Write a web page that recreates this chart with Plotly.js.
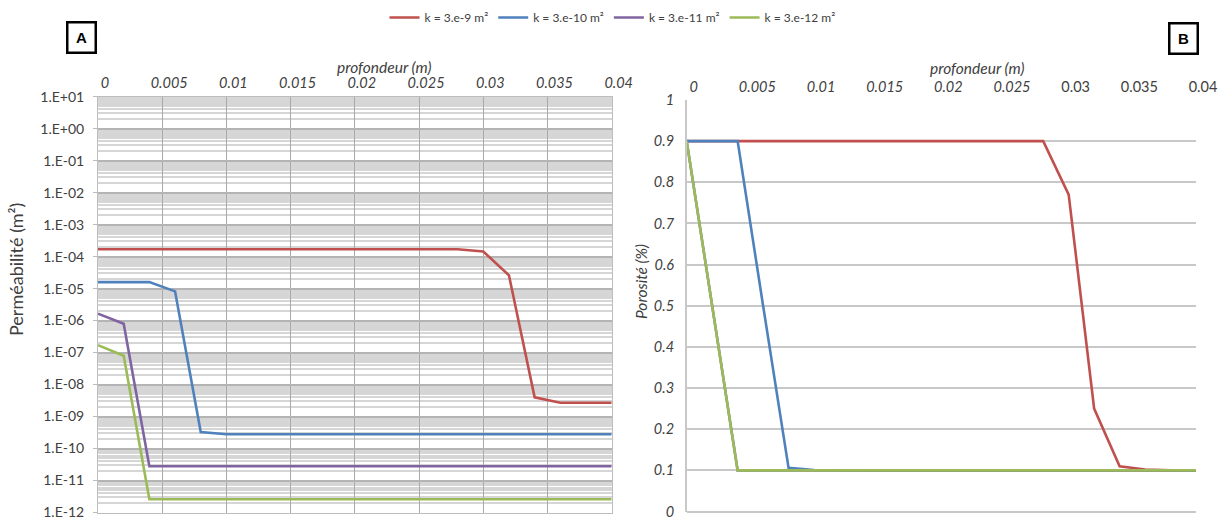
<!DOCTYPE html>
<html><head><meta charset="utf-8">
<script src="https://cdn.plot.ly/plotly-3.0.1.min.js"></script>
<style>html,body{margin:0;padding:0;background:#fff}#chart{width:1225px;height:520px}</style>
</head><body><div id="chart"></div>
<script>
// ---- data ----
const depth = [0, 0.002, 0.004, 0.006, 0.008, 0.010, 0.012, 0.014, 0.016, 0.018, 0.020,
               0.022, 0.024, 0.026, 0.028, 0.030, 0.032, 0.034, 0.036, 0.038, 0.040];
const seriesNames = ['k = 3.e-9 m²', 'k = 3.e-10 m²', 'k = 3.e-11 m²', 'k = 3.e-12 m²'];
const seriesColors = ['#C0504D', '#4F81BD', '#8064A2', '#9BBB59'];

const permK9  = [1.7e-4, 1.7e-4, 1.7e-4, 1.7e-4, 1.7e-4, 1.7e-4, 1.7e-4, 1.7e-4, 1.7e-4, 1.7e-4, 1.7e-4,
                 1.7e-4, 1.7e-4, 1.7e-4, 1.7e-4, 1.45e-4, 2.6e-5, 4.0e-9, 2.7e-9, 2.7e-9, 2.7e-9];
const permK10 = [1.6e-5, 1.6e-5, 1.6e-5, 8.2e-6, 3.3e-10, 2.8e-10, 2.8e-10, 2.8e-10, 2.8e-10, 2.8e-10, 2.8e-10,
                 2.8e-10, 2.8e-10, 2.8e-10, 2.8e-10, 2.8e-10, 2.8e-10, 2.8e-10, 2.8e-10, 2.8e-10, 2.8e-10];
const permK11 = [1.65e-6, 8.0e-7, 2.8e-11, 2.8e-11, 2.8e-11, 2.8e-11, 2.8e-11, 2.8e-11, 2.8e-11, 2.8e-11, 2.8e-11,
                 2.8e-11, 2.8e-11, 2.8e-11, 2.8e-11, 2.8e-11, 2.8e-11, 2.8e-11, 2.8e-11, 2.8e-11, 2.8e-11];
const permK12 = [1.7e-7, 8.0e-8, 2.6e-12, 2.6e-12, 2.6e-12, 2.6e-12, 2.6e-12, 2.6e-12, 2.6e-12, 2.6e-12, 2.6e-12,
                 2.6e-12, 2.6e-12, 2.6e-12, 2.6e-12, 2.6e-12, 2.6e-12, 2.6e-12, 2.6e-12, 2.6e-12, 2.6e-12];

const poroK9  = [0.9, 0.9, 0.9, 0.9, 0.9, 0.9, 0.9, 0.9, 0.9, 0.9, 0.9,
                 0.9, 0.9, 0.9, 0.9, 0.77, 0.25, 0.11, 0.102, 0.1, 0.1];
const poroK10 = [0.9, 0.9, 0.9, 0.5, 0.106, 0.101, 0.1, 0.1, 0.1, 0.1, 0.1,
                 0.1, 0.1, 0.1, 0.1, 0.1, 0.1, 0.1, 0.1, 0.1, 0.1];
const poroK11 = [0.9, 0.5, 0.1, 0.1, 0.1, 0.1, 0.1, 0.1, 0.1, 0.1, 0.1,
                 0.1, 0.1, 0.1, 0.1, 0.1, 0.1, 0.1, 0.1, 0.1, 0.1];
const poroK12 = [0.9, 0.5, 0.1, 0.1, 0.1, 0.1, 0.1, 0.1, 0.1, 0.1, 0.1,
                 0.1, 0.1, 0.1, 0.1, 0.1, 0.1, 0.1, 0.1, 0.1, 0.1];

const xTickVals = [0, 0.005, 0.01, 0.015, 0.02, 0.025, 0.03, 0.035, 0.04];
const xTickTextA = ['0', '0.005', '0.01', '0.015', '0.02', '0.025', '0.03', '0.035', '0.04'];
const xTickTextB = ['<i>0</i>', '<i>0.005</i>', '<i>0.01</i>', '<i>0.015</i>', '<i>0.02</i>', '<i>0.025</i>', '0.03', '0.035', '0.04'];
const permTickVals = [1e1, 1e0, 1e-1, 1e-2, 1e-3, 1e-4, 1e-5, 1e-6, 1e-7, 1e-8, 1e-9, 1e-10, 1e-11, 1e-12];
const permTickText = ['1.E+01', '1.E+00', '1.E-01', '1.E-02', '1.E-03', '1.E-04', '1.E-05', '1.E-06',
                      '1.E-07', '1.E-08', '1.E-09', '1.E-10', '1.E-11', '1.E-12'];
const poroTickVals = [0, 0.1, 0.2, 0.3, 0.4, 0.5, 0.6, 0.7, 0.8, 0.9, 1];
const poroTickText = ['0', '0.1', '0.2', '0.3', '0.4', '0.5', '0.6', '0.7', '0.8', '0.9', '1'];

// ---- traces ----
const permSeries = [permK9, permK10, permK11, permK12];
const poroSeries = [poroK9, poroK10, poroK11, poroK12];
const traces = [];
permSeries.forEach((ys, i) => traces.push({
  x: depth, y: ys, xaxis: 'x', yaxis: 'y', type: 'scatter', mode: 'lines',
  name: seriesNames[i], line: {color: seriesColors[i], width: 2.6}, showlegend: true
}));
poroSeries.forEach((ys, i) => traces.push({
  x: depth, y: ys, xaxis: 'x2', yaxis: 'y2', type: 'scatter', mode: 'lines',
  name: seriesNames[i], line: {color: seriesColors[i], width: 2.6}, showlegend: false
}));

const FONT = 'Lato, "Open Sans", sans-serif';
const TXT = '#404040';
const W = 1225, H = 520;
const px = v => v / W, py = v => 1 - v / H;

const layout = {
  width: W, height: H,
  margin: {l: 0, r: 0, t: 0, b: 0},
  paper_bgcolor: '#ffffff', plot_bgcolor: '#ffffff',
  font: {family: FONT, size: 13, color: TXT},
  showlegend: true,
  legend: {orientation: 'h', x: 0.5, xanchor: 'center', y: py(3), yanchor: 'top',
           font: {size: 12, color: TXT}, itemwidth: 30, tracegroupgap: 0},
  xaxis: {
    domain: [px(98), px(611.7)], range: [0, 0.04], side: 'top', anchor: 'y',
    tickmode: 'array', tickvals: xTickVals, ticktext: xTickTextA,
    tickfont: {size: 14.5, style: 'italic', color: TXT}, ticklabelshift: 7, ticklabelstandoff: 2,
    ticklabeloverflow: 'allow',
    showgrid: true, gridcolor: '#aaaaaa', gridwidth: 1,
    showline: true, linecolor: '#bdbdbd', mirror: true, zeroline: false, ticks: ''
  },
  yaxis: {
    domain: [py(512.5), py(96.7)], type: 'log', range: [-12, 1], anchor: 'x',
    tickmode: 'array', tickvals: permTickVals, ticktext: permTickText,
    tickfont: {size: 14, color: TXT}, ticks: 'outside', ticklen: 4, tickcolor: '#bdbdbd',
    ticklabelstandoff: 6, ticklabeloverflow: 'allow',
    showgrid: true, gridcolor: '#b4b4b4', gridwidth: 1.5,
    minor: {dtick: 'D1', showgrid: true, gridcolor: '#d6d6d6', gridwidth: 1.8},
    showline: true, linecolor: '#bdbdbd', mirror: true, zeroline: false
  },
  xaxis2: {
    domain: [px(686.7), px(1196)], range: [0, 0.04], side: 'top', anchor: 'y2',
    tickmode: 'array', tickvals: xTickVals, ticktext: xTickTextB,
    tickfont: {size: 14.5, color: TXT}, ticklabelshift: 7, ticklabelstandoff: 4,
    ticklabeloverflow: 'allow',
    showgrid: false, showline: false, zeroline: false, ticks: ''
  },
  yaxis2: {
    domain: [py(511.5), py(100)], range: [0, 1], anchor: 'x2',
    tickmode: 'array', tickvals: poroTickVals, ticktext: poroTickText,
    tickfont: {size: 14.5, style: 'italic', color: TXT}, ticks: '', ticklabelstandoff: 8,
    ticklabeloverflow: 'allow',
    showgrid: true, gridcolor: '#c8c8c8', gridwidth: 1.5,
    showline: true, linecolor: '#c8c8c8', linewidth: 1.5,
    zeroline: true, zerolinecolor: '#c8c8c8', zerolinewidth: 1.5
  },
  annotations: [
    {xref: 'paper', yref: 'paper', x: px(384), y: py(67), text: '<i>profondeur (m)</i>',
     showarrow: false, font: {size: 15.5, color: TXT}, xanchor: 'center', yanchor: 'middle'},
    {xref: 'paper', yref: 'paper', x: px(977), y: py(68), text: '<i>profondeur (m)</i>',
     showarrow: false, font: {size: 15.5, color: TXT}, xanchor: 'center', yanchor: 'middle'},
    {xref: 'paper', yref: 'paper', x: px(16), y: py(270), text: 'Perméabilité (m²)', textangle: -90,
     showarrow: false, font: {size: 18, color: TXT}, xanchor: 'center', yanchor: 'middle'},
    {xref: 'paper', yref: 'paper', x: px(641), y: py(281), text: '<i>Porosité (%)</i>', textangle: -90,
     showarrow: false, font: {size: 15.5, color: TXT}, xanchor: 'center', yanchor: 'middle'},
    {xref: 'paper', yref: 'paper', x: px(81), y: py(38), text: '<b>A</b>',
     showarrow: false, font: {size: 15, color: '#000', family: 'Arial, "Liberation Sans", sans-serif'},
     bordercolor: '#000', borderwidth: 2.5, borderpad: 4, bgcolor: '#fff',
     xanchor: 'center', yanchor: 'middle', width: 18, height: 20},
    {xref: 'paper', yref: 'paper', x: px(1183), y: py(38.5), text: '<b>B</b>',
     showarrow: false, font: {size: 15, color: '#000', family: 'Arial, "Liberation Sans", sans-serif'},
     bordercolor: '#000', borderwidth: 2.5, borderpad: 4, bgcolor: '#fff',
     xanchor: 'center', yanchor: 'middle', width: 18, height: 20}
  ]
};

Plotly.newPlot('chart', traces, layout, {displayModeBar: false, responsive: false});
</script>
</body></html>
